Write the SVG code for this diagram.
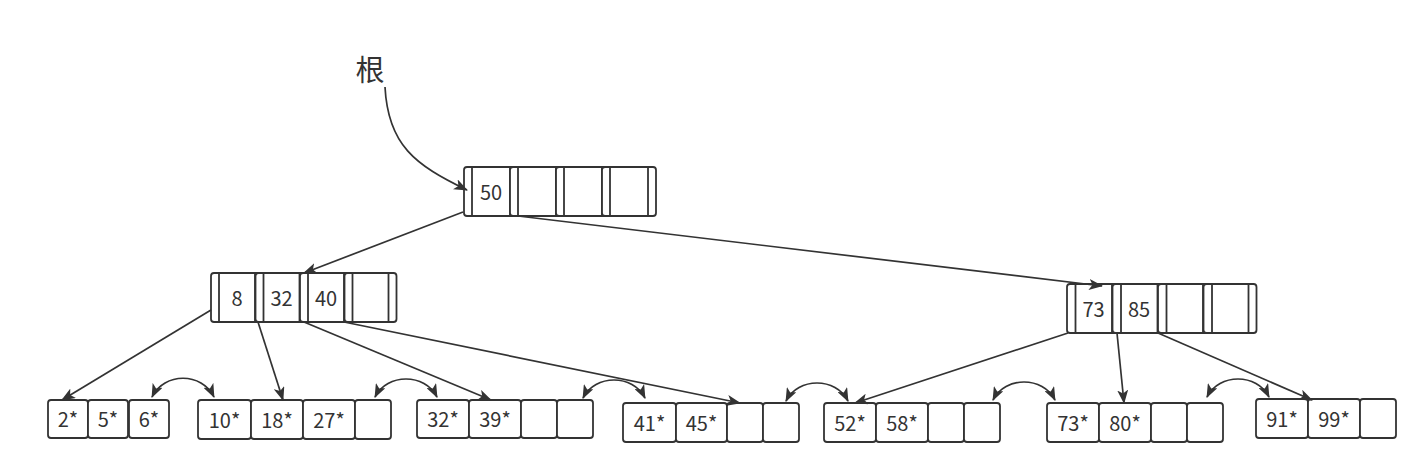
<svg xmlns="http://www.w3.org/2000/svg" width="1427" height="474" viewBox="0 0 1427 474">
<style>
.box{fill:#fff;stroke:#333;stroke-width:1.8}
.in{stroke:#333;stroke-width:1.8}
.t{font-family:"Noto Sans CJK SC","Noto Sans",sans-serif;font-size:20px;fill:#333;text-anchor:middle;dominant-baseline:central}
.c{fill:none;stroke:#333;stroke-width:1.7}
.a{marker-end:url(#arr)}
.b{marker-start:url(#arr);marker-end:url(#arr)}
</style>
<defs>
<marker id="arr" viewBox="0 0 14 11" refX="13" refY="5.5" markerWidth="14" markerHeight="11" markerUnits="userSpaceOnUse" orient="auto-start-reverse">
<path d="M0,0 L14,5.5 L0,11 L3.5,5.5 z" fill="#333"/>
</marker>
</defs>
<rect width="1427" height="474" fill="#fff"/>
<text id="label-root" class="t" x="370" y="68" style="font-size:29px">根</text>

<g id="node-root">
<rect class="box" x="464" y="167" width="54" height="49" rx="3"/><line class="in" x1="472" y1="167" x2="472" y2="216"/><line class="in" x1="510" y1="167" x2="510" y2="216"/>
<rect class="box" x="510" y="167" width="54" height="49" rx="3"/><line class="in" x1="518" y1="167" x2="518" y2="216"/><line class="in" x1="556" y1="167" x2="556" y2="216"/>
<rect class="box" x="556" y="167" width="54" height="49" rx="3"/><line class="in" x1="564" y1="167" x2="564" y2="216"/><line class="in" x1="602" y1="167" x2="602" y2="216"/>
<rect class="box" x="602" y="167" width="54" height="49" rx="3"/><line class="in" x1="610" y1="167" x2="610" y2="216"/><line class="in" x1="648" y1="167" x2="648" y2="216"/>
<text class="t" x="491" y="191.5">50</text>
</g>

<g id="node-left">
<rect class="box" x="211" y="273" width="52" height="49" rx="3"/><line class="in" x1="219" y1="273" x2="219" y2="322"/><line class="in" x1="255" y1="273" x2="255" y2="322"/>
<rect class="box" x="255.5" y="273" width="52" height="49" rx="3"/><line class="in" x1="263.5" y1="273" x2="263.5" y2="322"/><line class="in" x1="299.5" y1="273" x2="299.5" y2="322"/>
<rect class="box" x="300" y="273" width="52" height="49" rx="3"/><line class="in" x1="308" y1="273" x2="308" y2="322"/><line class="in" x1="344" y1="273" x2="344" y2="322"/>
<rect class="box" x="344.5" y="273" width="52" height="49" rx="3"/><line class="in" x1="352.5" y1="273" x2="352.5" y2="322"/><line class="in" x1="388.5" y1="273" x2="388.5" y2="322"/>
<text class="t" x="237" y="297.5">8</text>
<text class="t" x="281.5" y="297.5">32</text>
<text class="t" x="326" y="297.5">40</text>
</g>

<g id="node-right">
<rect class="box" x="1067" y="284" width="53" height="49" rx="3"/><line class="in" x1="1075.5" y1="284" x2="1075.5" y2="333"/><line class="in" x1="1112" y1="284" x2="1112" y2="333"/>
<rect class="box" x="1112.5" y="284" width="53" height="49" rx="3"/><line class="in" x1="1121" y1="284" x2="1121" y2="333"/><line class="in" x1="1157.5" y1="284" x2="1157.5" y2="333"/>
<rect class="box" x="1158" y="284" width="53" height="49" rx="3"/><line class="in" x1="1166.5" y1="284" x2="1166.5" y2="333"/><line class="in" x1="1203" y1="284" x2="1203" y2="333"/>
<rect class="box" x="1203.5" y="284" width="53" height="49" rx="3"/><line class="in" x1="1212" y1="284" x2="1212" y2="333"/><line class="in" x1="1248.5" y1="284" x2="1248.5" y2="333"/>
<text class="t" x="1093.5" y="308.5">73</text>
<text class="t" x="1139" y="308.5">85</text>
</g>

<g id="leaf-1">
<rect class="box" x="48" y="400" width="40" height="38" rx="3"/><text class="t" x="68" y="418.5">2*</text>
<rect class="box" x="88" y="400" width="40" height="38" rx="3"/><text class="t" x="108" y="418.5">5*</text>
<rect class="box" x="129" y="400" width="40" height="38" rx="3"/><text class="t" x="149" y="418.5">6*</text>
</g>
<g id="leaf-2">
<rect class="box" x="198" y="400" width="53" height="39" rx="3"/><text class="t" x="224.5" y="419">10*</text>
<rect class="box" x="251" y="400" width="52" height="39" rx="3"/><text class="t" x="277" y="419">18*</text>
<rect class="box" x="303" y="400" width="52" height="39" rx="3"/><text class="t" x="329" y="419">27*</text>
<rect class="box" x="355" y="400" width="36" height="39" rx="3"/>
</g>
<g id="leaf-3">
<rect class="box" x="417" y="400" width="52" height="38" rx="3"/><text class="t" x="443" y="418.5">32*</text>
<rect class="box" x="469" y="400" width="52" height="38" rx="3"/><text class="t" x="495" y="418.5">39*</text>
<rect class="box" x="521" y="400" width="36" height="38" rx="3"/>
<rect class="box" x="557" y="400" width="36" height="38" rx="3"/>
</g>
<g id="leaf-4">
<rect class="box" x="623" y="403" width="53" height="39" rx="3"/><text class="t" x="649.5" y="422">41*</text>
<rect class="box" x="676" y="403" width="51" height="39" rx="3"/><text class="t" x="701.5" y="422">45*</text>
<rect class="box" x="727" y="403" width="36" height="39" rx="3"/>
<rect class="box" x="763" y="403" width="36" height="39" rx="3"/>
</g>
<g id="leaf-5">
<rect class="box" x="824" y="403" width="52" height="39" rx="3"/><text class="t" x="850" y="422">52*</text>
<rect class="box" x="876" y="403" width="52" height="39" rx="3"/><text class="t" x="902" y="422">58*</text>
<rect class="box" x="928" y="403" width="36" height="39" rx="3"/>
<rect class="box" x="964" y="403" width="36" height="39" rx="3"/>
</g>
<g id="leaf-6">
<rect class="box" x="1047" y="403" width="52" height="39" rx="3"/><text class="t" x="1073" y="422">73*</text>
<rect class="box" x="1099" y="403" width="52" height="39" rx="3"/><text class="t" x="1125" y="422">80*</text>
<rect class="box" x="1151" y="403" width="36" height="39" rx="3"/>
<rect class="box" x="1187" y="403" width="36" height="39" rx="3"/>
</g>
<g id="leaf-7">
<rect class="box" x="1256" y="399" width="52" height="39" rx="3"/><text class="t" x="1282" y="418">91*</text>
<rect class="box" x="1308" y="399" width="52" height="39" rx="3"/><text class="t" x="1334" y="418">99*</text>
<rect class="box" x="1360" y="399" width="36" height="39" rx="3"/>
</g>

<g id="connectors">
<path class="c a" d="M385,87 C388,145 415,165 467,190"/>
<path class="c a" d="M463,212 L304,273"/>
<path class="c a" d="M518,216 L1102,286"/>
<path class="c a" d="M211,310 L62,400"/>
<path class="c a" d="M258,322 L283,400"/>
<path class="c a" d="M304,322 L491,400"/>
<path class="c a" d="M344,322 L740,403"/>
<path class="c a" d="M1068,333 L855,403"/>
<path class="c a" d="M1117,333 L1124,403"/>
<path class="c a" d="M1158,333 L1312,400"/>
<path class="c b" d="M152,397 C164,372 202,372 214,397"/>
<path class="c b" d="M375,397 C387,373 425,373 437,397"/>
<path class="c b" d="M583,398 C595,374 633,374 645,398"/>
<path class="c b" d="M786,401 C798,377 836,377 848,401"/>
<path class="c b" d="M993,400 C1005,376 1043,376 1055,400"/>
<path class="c b" d="M1207,397 C1219,373 1257,373 1269,397"/>
</g>
</svg>
